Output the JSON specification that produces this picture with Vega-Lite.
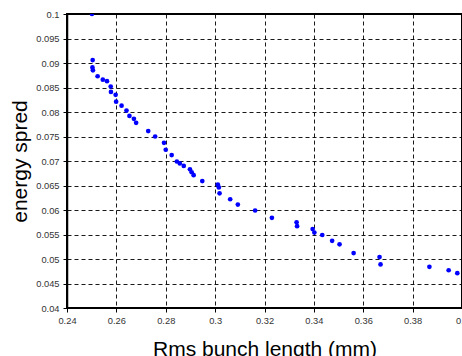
{
  "$schema": "https://vega.github.io/schema/vega-lite/v6.json",
  "width": 395,
  "height": 294,
  "autosize": {"type": "none"},
  "padding": {"left": 67, "top": 14, "right": 0, "bottom": 48},
  "background": "white",
  "config": {
    "view": {"stroke": "#000", "strokeWidth": 2},
    "font": "Liberation Sans",
    "axis": {
      "labelFont": "Liberation Sans",
      "titleFont": "Liberation Sans",
      "labelFontSize": 9.3,
      "labelColor": "#333",
      "titleFontSize": 21,
      "titleFontWeight": "normal",
      "titleColor": "#000",
      "domainColor": "#000",
      "domainWidth": 1.5,
      "tickColor": "#000",
      "tickSize": 4,
      "tickWidth": 1,
      "labelPadding": 4,
      "grid": true,
      "gridColor": "#000",
      "gridDash": [4, 3],
      "gridWidth": 1,
      "gridOpacity": 0.9
    }
  },
  "data": {
    "values": [
      {"x": 0.2501, "y": 0.1},
      {"x": 0.2504, "y": 0.0906},
      {"x": 0.2503, "y": 0.0891},
      {"x": 0.2505, "y": 0.0885},
      {"x": 0.2524, "y": 0.0873},
      {"x": 0.2545, "y": 0.0866},
      {"x": 0.2562, "y": 0.0863},
      {"x": 0.2577, "y": 0.0852},
      {"x": 0.2578, "y": 0.0841},
      {"x": 0.2597, "y": 0.0835},
      {"x": 0.2599, "y": 0.0821},
      {"x": 0.2621, "y": 0.0813},
      {"x": 0.2641, "y": 0.0803},
      {"x": 0.2653, "y": 0.0792},
      {"x": 0.2671, "y": 0.0786},
      {"x": 0.268, "y": 0.0778},
      {"x": 0.2729, "y": 0.0761},
      {"x": 0.2757, "y": 0.075},
      {"x": 0.2793, "y": 0.0737},
      {"x": 0.28, "y": 0.0723},
      {"x": 0.2824, "y": 0.0712},
      {"x": 0.2845, "y": 0.0699},
      {"x": 0.2857, "y": 0.0695},
      {"x": 0.2873, "y": 0.069},
      {"x": 0.2898, "y": 0.0683},
      {"x": 0.2905, "y": 0.0677},
      {"x": 0.2913, "y": 0.0671},
      {"x": 0.2948, "y": 0.0659},
      {"x": 0.3011, "y": 0.0652},
      {"x": 0.3015, "y": 0.0646},
      {"x": 0.3018, "y": 0.0634},
      {"x": 0.3061, "y": 0.0622},
      {"x": 0.3092, "y": 0.0611},
      {"x": 0.3162, "y": 0.0599},
      {"x": 0.323, "y": 0.0584},
      {"x": 0.333, "y": 0.0575},
      {"x": 0.3332, "y": 0.0567},
      {"x": 0.3395, "y": 0.0561},
      {"x": 0.3402, "y": 0.0554},
      {"x": 0.3434, "y": 0.0549},
      {"x": 0.3474, "y": 0.0537},
      {"x": 0.3504, "y": 0.053},
      {"x": 0.3561, "y": 0.0512},
      {"x": 0.3666, "y": 0.0504},
      {"x": 0.367, "y": 0.0489},
      {"x": 0.3868, "y": 0.0484},
      {"x": 0.3946, "y": 0.0477},
      {"x": 0.3981, "y": 0.0471}
    ]
  },
  "mark": {"type": "point", "filled": true, "color": "#0000ff", "opacity": 1, "size": 22, "clip": true},
  "encoding": {
    "x": {
      "field": "x",
      "type": "quantitative",
      "scale": {"domain": [0.24, 0.4], "nice": false, "zero": false},
      "axis": {
        "title": "Rms bunch length (mm)",
        "tickCount": 8,
        "format": "~g",
        "domainWidth": 1,
        "titleBaseline": "alphabetic",
        "titleY": 47,
        "labelFlush": false,
        "labelOverlap": false
      }
    },
    "y": {
      "field": "y",
      "type": "quantitative",
      "scale": {"domain": [0.04, 0.1], "nice": false, "zero": false},
      "axis": {
        "title": "energy spred",
        "tickCount": 12,
        "format": "~g",
        "titleBaseline": "alphabetic",
        "titleX": -41,
        "labelFlush": false,
        "labelOverlap": false
      }
    }
  }
}
